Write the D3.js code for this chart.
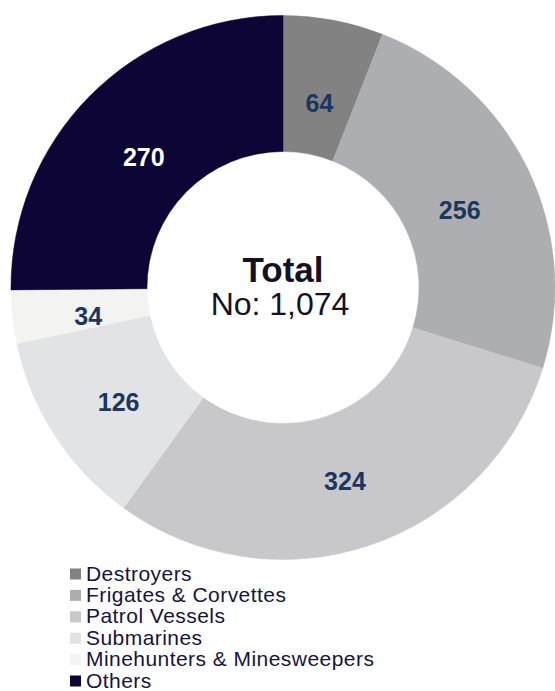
<!DOCTYPE html>
<html>
<head>
<meta charset="utf-8">
<script src="https://cdn.jsdelivr.net/npm/d3@7"></script>
<style>
  body { margin: 0; background: #fff; }
  svg { display: block; font-family: "Liberation Sans", Arial, sans-serif; }
</style>
</head>
<body>
<div id="chart"></div>
<script>
// --- data ---
const categories = ["Destroyers", "Frigates & Corvettes", "Patrol Vessels", "Submarines", "Minehunters & Minesweepers", "Others"];
const counts = [64, 256, 324, 126, 34, 270];
const colors = ["#828282", "#adaeb2", "#c8c8cb", "#e2e3e5", "#f3f3f1", "#0d0535"];
const labelColors = ["#1b365f", "#1b365f", "#1b365f", "#1b365f", "#1b365f", "#ffffff"];
const totalTitle = "Total";
const totalLine = "No: 1,074";

const width = 555, height = 691;
const cx = 283, cy = 287.5;
const outerR = 272, innerR = 136;

const svg = d3.select("#chart").append("svg")
    .attr("width", width)
    .attr("height", height);

const g = svg.append("g").attr("transform", `translate(${cx},${cy})`);

const pie = d3.pie().sort(null).value(d => d);
const arcs = pie(counts);

const arc = d3.arc().innerRadius(innerR).outerRadius(outerR);
const labelArc = d3.arc().innerRadius(196).outerRadius(196);

g.selectAll("path.slice")
    .data(arcs)
    .enter().append("path")
    .attr("class", "slice")
    .attr("d", arc)
    .attr("fill", (d, i) => colors[i])
    .attr("stroke", (d, i) => colors[i])
    .attr("stroke-width", 0.5);

// value labels (sit a little below the centroid, like the source)
g.selectAll("text.val")
    .data(arcs)
    .enter().append("text")
    .attr("class", "val")
    .attr("x", d => labelArc.centroid(d)[0])
    .attr("y", d => labelArc.centroid(d)[1] + 8)
    .attr("dy", "0.35em")
    .attr("text-anchor", "middle")
    .attr("font-size", "25px")
    .attr("font-weight", "bold")
    .attr("fill", (d, i) => labelColors[i])
    .text(d => d.value);

// centre text
g.append("text")
    .attr("x", 0).attr("y", -5.5)
    .attr("text-anchor", "middle")
    .attr("font-size", "35px")
    .attr("font-weight", "bold")
    .attr("fill", "#15121f")
    .text(totalTitle);

g.append("text")
    .attr("x", -3).attr("y", 27.5)
    .attr("text-anchor", "middle")
    .attr("font-size", "32px")
    .attr("fill", "#15121f")
    .text(totalLine);

// legend
const legend = svg.append("g").attr("transform", "translate(70,580.5)");
const rowH = 21.4;

const rows = legend.selectAll("g.row")
    .data(categories)
    .enter().append("g")
    .attr("class", "row")
    .attr("transform", (d, i) => `translate(0,${i * rowH})`);

rows.append("rect")
    .attr("x", 0).attr("y", -12)
    .attr("width", 11).attr("height", 11)
    .attr("fill", (d, i) => colors[i]);

rows.append("text")
    .attr("x", 16).attr("y", 0)
    .attr("font-size", "21px")
    .attr("letter-spacing", "0.45px")
    .attr("fill", "#16133f")
    .text(d => d);
</script>
</body>
</html>
